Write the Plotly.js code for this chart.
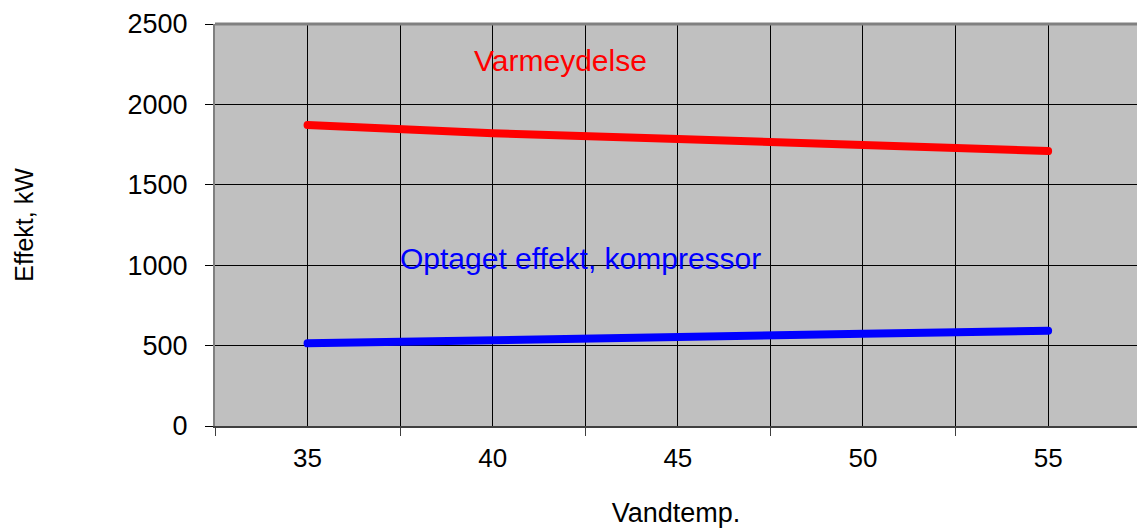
<!DOCTYPE html>
<html>
<head>
<meta charset="utf-8">
<script src="https://cdn.plot.ly/plotly-3.0.1.min.js"></script>
<style>
html,body{margin:0;padding:0;background:#fff;overflow:hidden}
path.js-line{stroke-linecap:round;stroke-linejoin:round}
</style>
</head>
<body>
<div id="chart" style="width:1137px;height:528px"></div>
<script>
const vandtemp = [35, 40, 45, 50, 55];
const varmeydelse = [1872, 1820, 1785, 1743, 1710];
const optagetEffekt = [514, 530, 555, 573, 593];
const xTickVals = [35, 40, 45, 50, 55];
const xTickText = ['35', '40', '45', '50', '55'];
const seriesNames = ['Varmeydelse', 'Optaget effekt, kompressor'];

const font = 'Arial, "Liberation Sans", sans-serif';

const traces = [
  {x: vandtemp, y: varmeydelse, name: seriesNames[0], mode: 'lines',
   line: {color: '#ff0000', width: 8}},
  {x: vandtemp, y: optagetEffekt, name: seriesNames[1], mode: 'lines',
   line: {color: '#0000ff', width: 8}}
];

const layout = {
  width: 1137, height: 528,
  margin: {l: 215, r: 0, t: 24, b: 102},
  paper_bgcolor: '#ffffff',
  plot_bgcolor: '#c0c0c0',
  showlegend: false,
  font: {family: font, color: '#000000'},
  xaxis: {
    range: [32.5, 57.4],
    tickvals: xTickVals, ticktext: xTickText,
    ticks: '', showgrid: true, gridcolor: '#000000', gridwidth: 1,
    zeroline: false,
    showline: true, linecolor: '#404040', linewidth: 2,
    tickfont: {size: 26, family: font},
    ticklabelstandoff: 8,
    minor: {tick0: 32.5, dtick: 5, ticks: 'outside', ticklen: 8, tickcolor: '#404040', tickwidth: 1,
            showgrid: true, gridcolor: '#000000', gridwidth: 1},
    title: {text: 'Vandtemp.', font: {size: 27, family: font}, standoff: 42}
  },
  yaxis: {
    range: [0, 2500], dtick: 500, tick0: 0,
    ticks: 'outside', ticklen: 8, tickcolor: '#000000', tickwidth: 1,
    showgrid: true, gridcolor: '#000000', gridwidth: 1,
    zeroline: false,
    showline: true, linecolor: '#808080', linewidth: 2,
    tickfont: {size: 27, family: font},
    ticklabelstandoff: 12,
    title: {text: 'Effekt, kW', font: {size: 25, family: font}, standoff: 87}
  },
  shapes: [
    {type: 'line', xref: 'paper', yref: 'paper', x0: 0, x1: 1, y0: 1, y1: 1,
     line: {color: '#808080', width: 3}}
  ],
  annotations: [
    {text: seriesNames[0], x: 41.84, y: 2270, xref: 'x', yref: 'y', showarrow: false,
     font: {size: 30, color: '#ff0000', family: font}, xanchor: 'center', yanchor: 'middle'},
    {text: seriesNames[1], x: 42.38, y: 1040, xref: 'x', yref: 'y', showarrow: false,
     font: {size: 30, color: '#0000ff', family: font}, xanchor: 'center', yanchor: 'middle'}
  ]
};

Plotly.newPlot('chart', traces, layout, {displayModeBar: false, staticPlot: true});
</script>
</body>
</html>
